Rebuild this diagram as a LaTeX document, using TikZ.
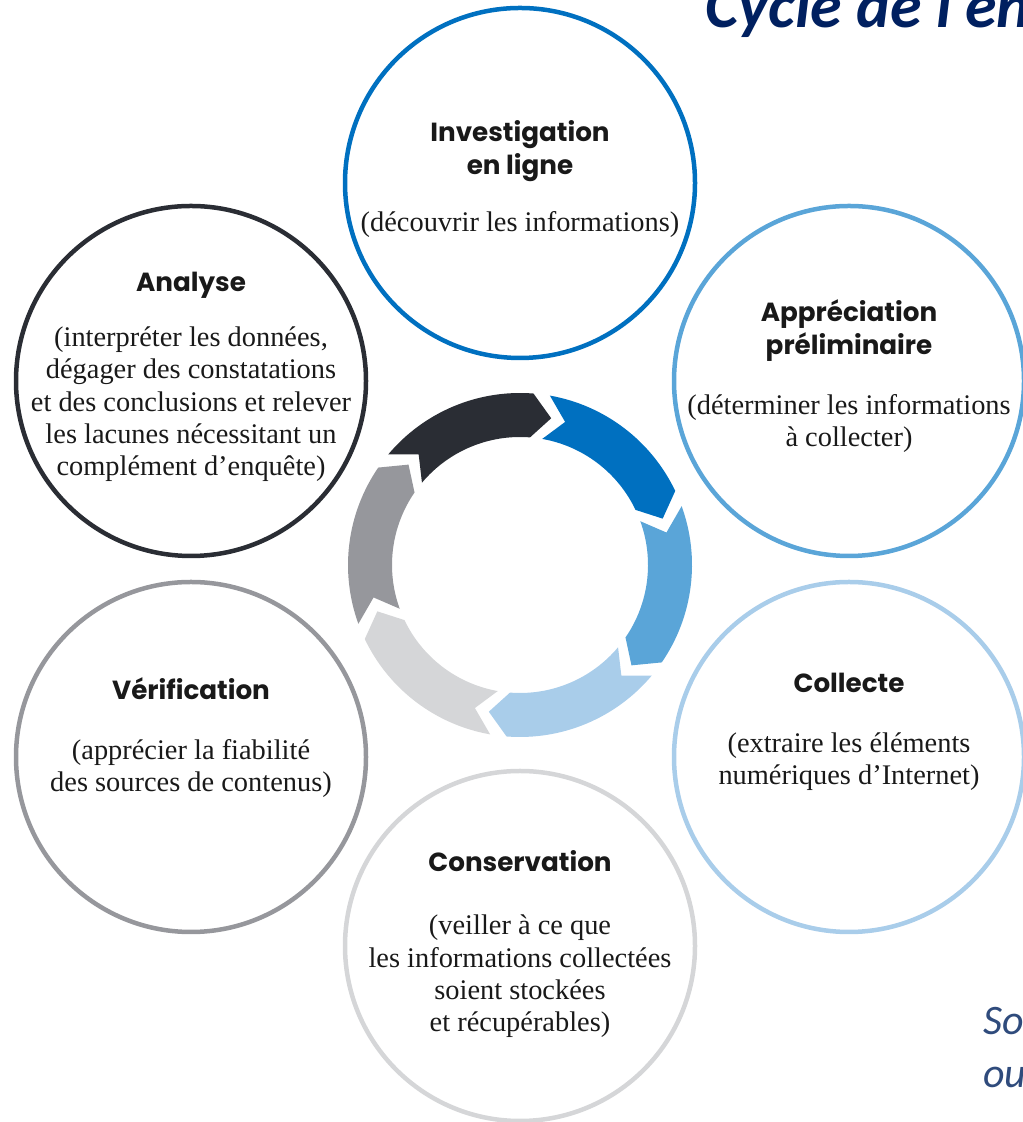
\documentclass[tikz,border=0pt]{standalone}
\usepackage{fontspec}
\usepackage{tikz}
\usetikzlibrary{calc}
\usetikzlibrary{positioning}

\setmainfont{Liberation Serif}
\newfontfamily\headfont{Poppins}
\newfontfamily\titlefont{Carlito}

\definecolor{cdark}{HTML}{2A2D34}
\definecolor{cblue}{HTML}{0070C0}
\definecolor{cmid}{HTML}{5AA5D8}
\definecolor{clight}{HTML}{A9CDEA}
\definecolor{cpale}{HTML}{D5D6D8}
\definecolor{cgray}{HTML}{96979C}
\definecolor{navy}{HTML}{002060}
\definecolor{slate}{HTML}{2F4B7C}

\begin{document}
\begin{tikzpicture}[x=0.5pt,y=0.5pt,
  stage/.style={circle,draw=#1,line width=2.25pt,minimum size=175pt,inner sep=0pt},
  head/.style={font=\headfont\bfseries\fontsize{13.1}{16.5}\selectfont,text=black!90,align=center,inner sep=0pt,anchor=base},
  body/.style={font=\fontsize{14.2}{16.2}\selectfont,text=black!90,align=center,inner sep=0pt,anchor=base}]

\useasboundingbox (0,0) rectangle (1022,1122);

% the six stages
\node[stage=cblue] (inv) at (520,939) {};
\node[stage=cmid] (app) at (849,741) {};
\node[stage=clight] (col) at (849,365) {};
\node[stage=cpale] (con) at (520,176) {};
\node[stage=cgray] (ver) at (191,365) {};
\node[stage=cdark] (ana) at (191,741) {};

% base of a multi-line node is its last line
\node[head,above=4pt of inv.center,anchor=base] (inv-h) {Investigation\\en ligne};
\node[body,below=28.5pt of inv-h.base,anchor=base] (inv-b) {(découvrir les informations)};

\node[head,above=13pt of app.center,anchor=base] (app-h) {Appréciation\\préliminaire};
\node[body,below=46pt of app-h.base,anchor=base] (app-b) {(déterminer les informations\\à collecter)};

\node[head,above=32pt of col.center,anchor=base] (col-h) {Collecte};
\node[body,below=46pt of col-h.base,anchor=base] (col-b) {(extraire les éléments\\numériques d’Internet)};

\node[head,above=37pt of con.center,anchor=base] (con-h) {Conservation};
\node[body,below=80pt of con-h.base,anchor=base] (con-b) {(veiller à ce que\\les informations collectées\\soient stockées\\et récupérables)};

\node[head,above=28.5pt of ver.center,anchor=base] (ver-h) {Vérification};
\node[body,below=46pt of ver-h.base,anchor=base] (ver-b) {(apprécier la fiabilité\\des sources de contenus)};

\node[head,above=44.5pt of ana.center,anchor=base] (ana-h) {Analyse};
\node[body,below=92pt of ana-h.base,anchor=base] (ana-b) {(interpréter les données,\\dégager des constatations\\et des conclusions et relever\\les lacunes nécessitant un\\complément d’enquête)};

% ring of arrows in the middle
\coordinate (hub) at (520,557);
\fill[cdark] ($(hub)+(140:172)$) arc[start angle=140,end angle=85.5,radius=172] -- ($(hub)+(78:150)$) -- ($(hub)+(85.5:128)$) arc[start angle=85.5,end angle=140,radius=128] -- ($(hub)+(132.5:150)$) -- cycle;
\fill[cblue] ($(hub)+(80:172)$) arc[start angle=80,end angle=25.5,radius=172] -- ($(hub)+(18:150)$) -- ($(hub)+(25.5:128)$) arc[start angle=25.5,end angle=80,radius=128] -- ($(hub)+(72.5:150)$) -- cycle;
\fill[cmid] ($(hub)+(20:172)$) arc[start angle=20,end angle=-34.5,radius=172] -- ($(hub)+(-42:150)$) -- ($(hub)+(-34.5:128)$) arc[start angle=-34.5,end angle=20,radius=128] -- ($(hub)+(12.5:150)$) -- cycle;
\fill[clight] ($(hub)+(-40:172)$) arc[start angle=-40,end angle=-94.5,radius=172] -- ($(hub)+(-102:150)$) -- ($(hub)+(-94.5:128)$) arc[start angle=-94.5,end angle=-40,radius=128] -- ($(hub)+(-47.5:150)$) -- cycle;
\fill[cpale] ($(hub)+(-100:172)$) arc[start angle=-100,end angle=-154.5,radius=172] -- ($(hub)+(-162:150)$) -- ($(hub)+(-154.5:128)$) arc[start angle=-154.5,end angle=-100,radius=128] -- ($(hub)+(-107.5:150)$) -- cycle;
\fill[cgray] ($(hub)+(-160:172)$) arc[start angle=-160,end angle=-214.5,radius=172] -- ($(hub)+(-222:150)$) -- ($(hub)+(-214.5:128)$) arc[start angle=-214.5,end angle=-160,radius=128] -- ($(hub)+(-167.5:150)$) -- cycle;

% title and source, cut by the page edge
\node[anchor=base west,inner sep=0pt,text=navy,font=\titlefont\bfseries\itshape\fontsize{32}{34}\selectfont] (title) at (705,1094) {Cycle de l’en};
\node[anchor=base west,inner sep=0pt,align=left,text=slate,font=\titlefont\itshape\fontsize{21}{26.5}\selectfont] (src) at (983,34) {So\\ou};
\end{tikzpicture}
\end{document}
